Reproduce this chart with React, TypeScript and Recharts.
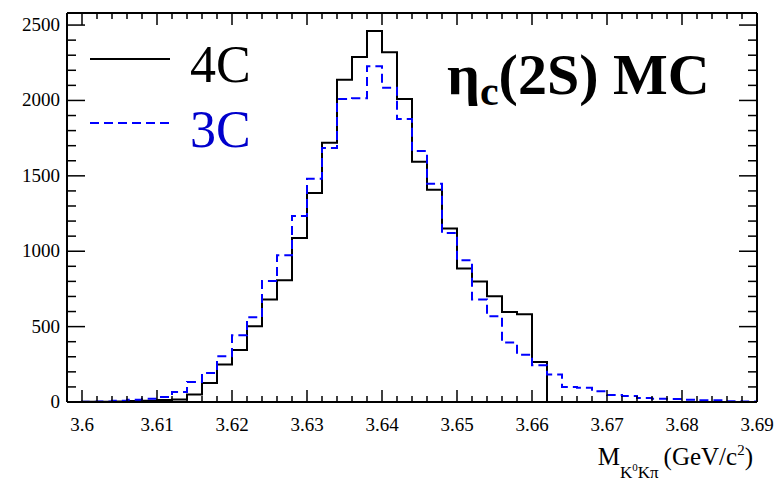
import { LineChart, Line, XAxis, YAxis, ReferenceLine, Legend } from "recharts";

// histogram binning (GeV/c^2)
const X_MIN = 3.598;
const X_MAX = 3.69;
const BIN_WIDTH = 0.002;
const Y_MAX = 2580;

// counts per bin
const COUNTS_4C = [
  0, 1, 2, 3, 6, 8, 14, 17, 49, 126, 248, 345, 502, 679, 807, 1088, 1386, 1720,
  2138, 2288, 2460, 2319, 2009, 1594, 1408, 1150, 885, 800, 701, 597, 582, 265,
  0, 0, 0, 0, 0, 0, 0, 0, 0, 0, 0, 0, 0, 0,
];
const COUNTS_3C = [
  0, 2, 4, 8, 15, 22, 33, 66, 133, 192, 303, 442, 562, 803, 973, 1234, 1481,
  1685, 2009, 2014, 2226, 2085, 1877, 1665, 1448, 1121, 940, 679, 568, 394, 314,
  243, 182, 100, 94, 71, 46, 40, 27, 22, 20, 15, 11, 11, 5, 3,
];

const X_MAJOR = [3.6, 3.61, 3.62, 3.63, 3.64, 3.65, 3.66, 3.67, 3.68, 3.69];
const Y_MAJOR = [0, 500, 1000, 1500, 2000, 2500];

const W = 778;
const H = 482;
const PLOT_W = 690;
const PLOT_H = 389;
const SERIF = {
  fontFamily:
    '"Liberation Serif", "Times New Roman", Times, "Nimbus Roman", "Noto Serif", "DejaVu Serif", FreeSerif, serif',
};

// step points at bin low edges, plus closing point at upper edge
const data = COUNTS_4C.map((_, i) => ({
  x: X_MIN + i * BIN_WIDTH,
  c4: COUNTS_4C[i],
  c3: COUNTS_3C[i],
}));
data.push({
  x: X_MAX,
  c4: COUNTS_4C[COUNTS_4C.length - 1],
  c3: COUNTS_3C[COUNTS_3C.length - 1],
});

// minor ticks every bin width / every 100 counts
const xTicks: number[] = [];
for (let k = 1800; k <= 1845; k++) xTicks.push(k * BIN_WIDTH);
const yTicks: number[] = [];
for (let v = 0; v <= 2500; v += 100) yTicks.push(v);

const isMajorX = (v: number) => X_MAJOR.some((m) => Math.abs(m - v) < 1e-6);

const XTick = (props: any) => {
  const { x, y, payload } = props;
  const major = isMajorX(payload.value);
  const len = major ? 12 : 6;
  const top = y - PLOT_H;
  return (
    <g>
      <line x1={x} y1={y} x2={x} y2={y - len} stroke="#000" strokeWidth={1.5} />
      <line x1={x} y1={top} x2={x} y2={top + len} stroke="#000" strokeWidth={1.5} />
      {major && (
        <text x={x} y={y + 29} textAnchor="middle" style={SERIF} fontSize={19} fill="#000">
          {String(parseFloat(payload.value.toFixed(2)))}
        </text>
      )}
    </g>
  );
};

const YTick = (props: any) => {
  const { x, y, payload } = props;
  const major = Y_MAJOR.includes(payload.value);
  const len = major ? 18 : 9;
  const right = x + PLOT_W;
  return (
    <g>
      <line x1={x} y1={y} x2={x + len} y2={y} stroke="#000" strokeWidth={1.5} />
      <line x1={right} y1={y} x2={right - len} y2={y} stroke="#000" strokeWidth={1.5} />
      {major && (
        <text x={x - 7} y={y + 6} textAnchor="end" style={SERIF} fontSize={19} fill="#000">
          {payload.value}
        </text>
      )}
    </g>
  );
};

const renderLegend = () => (
  <svg width={300} height={170} style={{ overflow: "visible" }}>
    <line x1={90} y1={59} x2={170} y2={59} stroke="#000" strokeWidth={2} />
    <text x={190} y={82} style={SERIF} fontSize={52} fill="#000">
      4C
    </text>
    <line
      x1={90}
      y1={123}
      x2={170}
      y2={123}
      stroke="#0000ff"
      strokeWidth={2}
      strokeDasharray="9 5"
    />
    <text x={190} y={147} style={SERIF} fontSize={52} fill="#0000cc">
      3C
    </text>
  </svg>
);

export default function App() {
  return (
    <div style={{ position: "absolute", left: 0, top: 0, width: W, height: H, background: "#fff" }}>
      <LineChart
        width={W}
        height={H}
        data={data}
        margin={{ top: 13, right: 21, bottom: 0, left: 0 }}
      >
        <XAxis
          dataKey="x"
          type="number"
          domain={[X_MIN, X_MAX]}
          ticks={xTicks}
          interval={0}
          tick={<XTick />}
          tickLine={false}
          tickSize={0}
          tickMargin={0}
          height={80}
          axisLine={{ stroke: "#000", strokeWidth: 2 }}
          allowDataOverflow
        />
        <YAxis
          type="number"
          domain={[0, Y_MAX]}
          ticks={yTicks}
          interval={0}
          tick={<YTick />}
          tickLine={false}
          tickSize={0}
          tickMargin={0}
          width={67}
          axisLine={{ stroke: "#000", strokeWidth: 2 }}
          allowDataOverflow
        />
        <ReferenceLine y={Y_MAX} stroke="#000" strokeWidth={2} />
        <ReferenceLine x={X_MAX} stroke="#000" strokeWidth={2} />
        <Line
          dataKey="c4"
          name="4C"
          type="stepAfter"
          stroke="#000"
          strokeWidth={2}
          dot={false}
          isAnimationActive={false}
        />
        <Line
          dataKey="c3"
          name="3C"
          type="stepAfter"
          stroke="#0000ff"
          strokeWidth={2}
          strokeDasharray="9 5"
          dot={false}
          isAnimationActive={false}
        />
        <Legend
          layout="vertical"
          align="center"
          verticalAlign="middle"
          content={renderLegend}
          wrapperStyle={{ position: "absolute", left: 0, top: 0, width: 300, height: 170 }}
        />
      </LineChart>
      <svg
        width={W}
        height={H}
        style={{ position: "absolute", left: 0, top: 0, pointerEvents: "none" }}
      >
        <text x={447} y={94} style={SERIF} fontSize={58} fontWeight="bold" fill="#000">
          η
          <tspan fontSize={42} dy={11}>c</tspan>
          <tspan fontSize={58} dy={-11}>(2S) MC</tspan>
        </text>
        <text x={753} y={465} textAnchor="end" style={SERIF} fontSize={25} fill="#000">
          M
          <tspan fontSize={17} dy={13}>K</tspan>
          <tspan fontSize={11} dy={-7}>0</tspan>
          <tspan fontSize={17} dy={7}>Kπ</tspan>
          <tspan fontSize={25} dy={-13} dx={5}>(GeV/c</tspan>
          <tspan fontSize={15} dy={-10}>2</tspan>
          <tspan fontSize={25} dy={10}>)</tspan>
        </text>
      </svg>
    </div>
  );
}
